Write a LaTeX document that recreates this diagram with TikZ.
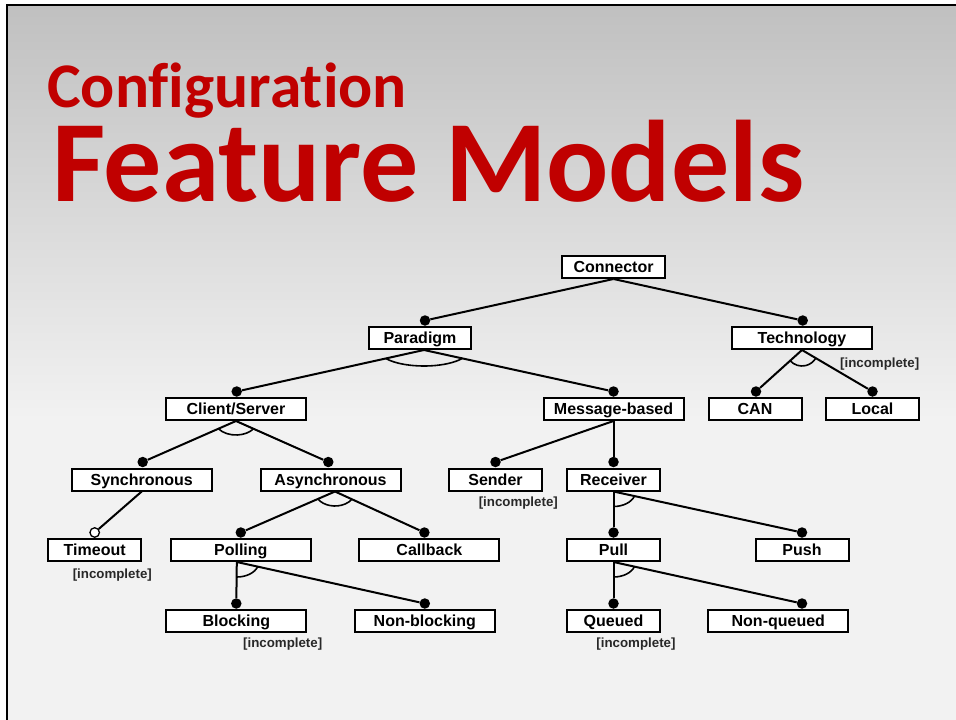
\documentclass[tikz,border=0pt]{standalone}
\usepackage{fontspec}
\setmainfont{Liberation Sans}
\newfontfamily\titlefont[Ligatures={NoCommon}]{Carlito}
\definecolor{slidetop}{RGB}{192,192,192}
\definecolor{slidebottom}{RGB}{242,242,242}
\definecolor{titlered}{RGB}{192,0,0}
\definecolor{notegray}{RGB}{40,40,40}
% elliptic arc of a feature group, centred on the parent's connection point
% #1 point, #2 start angle, #3 end angle, #4 x radius, #5 y radius
\newcommand\grouparc[5]{%
  \draw[arcline] #1 ++({#4*cos(#2)},{#5*sin(#2)})
    arc[start angle=#2, end angle=#3, x radius=#4, y radius=#5];}
\begin{document}
\begin{tikzpicture}[x=1pt,y=-1pt,
  feat/.style={draw=black, line width=2pt, fill=white, inner sep=0pt,
    minimum height=22, text height=11.5, text depth=0,
    font=\fontsize{16}{18}\selectfont\bfseries},
  wide/.style={feat, minimum width=140},
  mid/.style={feat, minimum width=102.5},
  narrow/.style={feat, minimum width=93},
  mand/.style={circle, fill=black, inner sep=0pt, minimum size=10.5},
  opt/.style={circle, draw=black, fill=white, line width=1.3pt, inner sep=0pt, minimum size=9.5},
  edge/.style={line width=2pt},
  arcline/.style={line width=1.6pt},
  note/.style={inner sep=0pt, text=notegray, font=\fontsize{13.3}{15}\selectfont\bfseries},
  slidetitle/.style={anchor=base west, inner sep=0pt, text=titlered}]
\useasboundingbox (0,0) rectangle (956,720);
% slide background
\fill[white] (0,0) rectangle (956,720);
\shade[top color=slidetop, bottom color=slidebottom] (6,4) rectangle (956,420);
\fill[slidebottom] (6,420) rectangle (956,720);
\draw[line width=2pt] (7,720) -- (7,5) -- (956,5);

% title
\node[slidetitle, font=\titlefont\fontsize{63.6}{66}\selectfont\bfseries] (title1) at (47,107) {Configuration};
\node[slidetitle, font=\titlefont\fontsize{116}{118}\selectfont\bfseries] (title2) at (52,201) {Feature Models};

% features
\node[mid]    (Connector)   at (613.5,267) {Connector};
\node[mid]    (Paradigm)    at (420,338)   {Paradigm};
\node[wide]   (Technology)  at (802,338)   {Technology};
\node[wide]   (ClientServer) at (236,409)  {Client/Server};
\node[wide]   (Message)     at (613.5,409) {Message-based};
\node[narrow] (CAN)         at (755,409)   {CAN};
\node[narrow] (Local)       at (872.5,409) {Local};
\node[wide]   (Sync)        at (141.7,479.5) {Synchronous};
\node[wide]   (Async)       at (330.5,479.5) {Asynchronous};
\node[narrow] (Sender)      at (495.5,479.5) {Sender};
\node[narrow] (Receiver)    at (613.5,479.5) {Receiver};
\node[narrow] (Timeout)     at (94.7,550)  {Timeout};
\node[wide]   (Polling)     at (240.8,550) {Polling};
\node[wide]   (Callback)    at (429.4,550) {Callback};
\node[narrow] (Pull)        at (613.5,550) {Pull};
\node[narrow] (Push)        at (802,550)   {Push};
\node[wide]   (Blocking)    at (236.3,621) {Blocking};
\node[wide]   (Nonblocking) at (424.8,621) {Non-blocking};
\node[narrow] (Queued)      at (613.5,621) {Queued};
\node[wide]   (Nonqueued)   at (778.3,621) {Non-queued};

% mandatory / optional markers
\node[mand] (dParadigm)    at ([xshift=5pt,yshift=5.5pt]Paradigm.north) {};
\node[mand] (dTechnology)  at ([xshift=0.7pt,yshift=5.5pt]Technology.north) {};
\node[mand] (dClientServer) at ([xshift=0.7pt,yshift=5.5pt]ClientServer.north) {};
\node[mand] (dMessage)     at ([yshift=5.5pt]Message.north) {};
\node[mand] (dCAN)         at ([xshift=1pt,yshift=5.5pt]CAN.north) {};
\node[mand] (dLocal)       at ([yshift=5.5pt]Local.north) {};
\node[mand] (dSync)        at ([xshift=1pt,yshift=5.5pt]Sync.north) {};
\node[mand] (dAsync)       at ([xshift=-2.2pt,yshift=5.5pt]Async.north) {};
\node[mand] (dSender)      at ([yshift=5.5pt]Sender.north) {};
\node[mand] (dReceiver)    at ([yshift=5.5pt]Receiver.north) {};
\node[opt]  (oTimeout)     at ([yshift=5.5pt]Timeout.north) {};
\node[mand] (dPolling)     at ([yshift=5.5pt]Polling.north) {};
\node[mand] (dCallback)    at ([xshift=-5pt,yshift=5.5pt]Callback.north) {};
\node[mand] (dPull)        at ([yshift=5.5pt]Pull.north) {};
\node[mand] (dPush)        at ([yshift=5.5pt]Push.north) {};
\node[mand] (dBlocking)    at ([yshift=5.5pt]Blocking.north) {};
\node[mand] (dNonblocking) at ([yshift=5.5pt]Nonblocking.north) {};
\node[mand] (dQueued)      at ([yshift=5.5pt]Queued.north) {};
\node[mand] (dNonqueued)   at ([xshift=23.7pt,yshift=5.5pt]Nonqueued.north) {};

% connections
\draw[edge] (Connector.south) -- (dParadigm);
\draw[edge] (Connector.south) -- (dTechnology);
\draw[edge] ([xshift=4pt]Paradigm.south) -- (dClientServer);
\draw[edge] ([xshift=4pt]Paradigm.south) -- (dMessage);
\draw[edge] (Technology.south) -- (dCAN);
\draw[edge] (Technology.south) -- (dLocal);
\draw[edge] (ClientServer.south) -- (dSync);
\draw[edge] (ClientServer.south) -- (dAsync);
\draw[edge] (Message.south) -- (dSender);
\draw[edge] (Message.south) -- (dReceiver);
\draw[edge] (Sync.south) -- (oTimeout);
\draw[edge] ([xshift=4.5pt]Async.south) -- (dPolling);
\draw[edge] ([xshift=4.5pt]Async.south) -- (dCallback);
\draw[edge] (Receiver.south) -- (dPull);
\draw[edge] (Receiver.south) -- (dPush);
\draw[edge] ([xshift=-4pt]Polling.south) -- (dBlocking);
\draw[edge] ([xshift=-4pt]Polling.south) -- (dNonblocking);
\draw[edge] (Pull.south) -- (dQueued);
\draw[edge] (Pull.south) -- (dNonqueued);

% group arcs
\grouparc{([xshift=4pt]Paradigm.south)}{148.1}{31.8}{45}{16}
\grouparc{(Technology.south)}{137.6}{30.8}{16}{16}
\grouparc{(ClientServer.south)}{146}{34.3}{21}{14}
\grouparc{([xshift=4.5pt]Async.south)}{148.7}{32.6}{20}{14.5}
\grouparc{(Receiver.south)}{90}{17.9}{22}{15}
\grouparc{([xshift=-4pt]Polling.south)}{90}{17.9}{22}{15}
\grouparc{(Pull.south)}{90}{17.9}{22}{15}

% notes
\node[note] (nTechnology) at (879.7,364.5) {[incomplete]};
\node[note] (nSender)     at (518.3,503)   {[incomplete]};
\node[note] (nTimeout)    at (112.3,575)   {[incomplete]};
\node[note] (nBlocking)   at (282.7,644.3) {[incomplete]};
\node[note] (nQueued)     at (636,644.3)   {[incomplete]};
\end{tikzpicture}
\end{document}
